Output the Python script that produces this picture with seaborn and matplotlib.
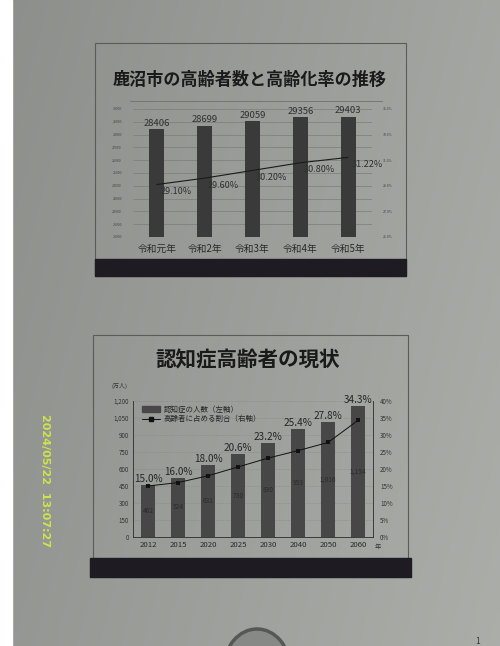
import numpy as np
import matplotlib
matplotlib.use("Agg")
import matplotlib.pyplot as plt
import matplotlib.patches as mpatches
from matplotlib.lines import Line2D
import seaborn as sns

# 上のスライド: 鹿沼市の高齢者数と高齢化率
years_top = ["令和元年", "令和2年", "令和3年", "令和4年", "令和5年"]
elderly = [28406, 28699, 29059, 29356, 29403]
aging_rate = [29.10, 29.60, 30.20, 30.80, 31.22]
left_ticks_top = [20000, 21000, 22000, 23000, 24000, 25000, 26000, 27000, 28000, 29000, 30000]
right_ticks_top = [25.0, 27.0, 29.0, 31.0, 33.0, 35.0]

# 下のスライド: 認知症高齢者の現状
years_bot = ["2012", "2015", "2020", "2025", "2030", "2040", "2050", "2060"]
dementia = [462, 524, 631, 730, 830, 953, 1016, 1154]
dementia_rate = [15.0, 16.0, 18.0, 20.6, 23.2, 25.4, 27.8, 34.3]
left_ticks_bot = [0, 150, 300, 450, 600, 750, 900, 1050, 1200]
right_ticks_bot = [0, 5, 10, 15, 20, 25, 30, 35, 40]

sns.set_theme(style="white")
plt.rcParams["font.family"] = ["Noto Sans CJK JP", "DejaVu Sans"]

W, H = 500, 646
fig = plt.figure(figsize=(W / 100, H / 100), dpi=100)


def fx(x):
    return x / W


def fy(y):
    return 1 - y / H


# 写真の背景 (紙の明るさのむら)
bg = fig.add_axes([0, 0, 1, 1], zorder=-10)
gx = np.linspace(0, 1, 200)
gy = np.linspace(0, 1, 200)
GX, GY = np.meshgrid(gx, gy)
shade = 0.56 + 0.09 * GX + 0.03 * GY
bg.imshow(np.dstack([shade * 0.985, shade, shade * 0.975]), extent=[0, W, H, 0], aspect="auto")
bg.add_patch(mpatches.Rectangle((0, 0), 12, H, color="white"))
bg.add_patch(mpatches.Ellipse((257, 668), 66, 78, facecolor="#868985", edgecolor="#555854", lw=2.5))
bg.text(478, 641, "1", fontsize=6, color="#333333", ha="center", va="center")
bg.set_xlim(0, W)
bg.set_ylim(H, 0)
bg.axis("off")

# スライドの枠と下の帯
for (x0, y0, x1, y1), (bx0, by0, bx1, by1) in [((95, 43, 406, 276), (95, 259, 406, 276)),
                                                 ((93, 335, 408, 577), (90, 558, 411, 577))]:
    bg.add_patch(mpatches.Rectangle((x0, y0), x1 - x0, y1 - y0, fill=False, ec="#5a5c58", lw=0.8))
    bg.add_patch(mpatches.Rectangle((bx0, by0), bx1 - bx0, by1 - by0, color="#1f1b22"))

bg.text(250, 80, "鹿沼市の高齢者数と高齢化率の推移", fontsize=12.3, fontweight="bold",
        ha="center", va="center", color="#1a1a1a")
bg.plot([130, 382], [101, 101], color="#6f716d", lw=0.6)
bg.text(248, 360, "認知症高齢者の現状", fontsize=14.8, fontweight="bold",
        ha="center", va="center", color="#1a1a1a")

# 日付スタンプ
bg.text(45, 480, "2024/05/22  13:07:27", rotation=-90, fontsize=8, fontweight="bold",
        color="#cfe44a", ha="center", va="center", family="DejaVu Sans")

# ---- 上のグラフ ----
ax1 = fig.add_axes([fx(133), fy(237), fx(372 - 133), (237 - 109) / H])
ax1.set_facecolor("none")
sns.barplot(x=years_top, y=elderly, ax=ax1, color="#3a3a3a", width=0.31, saturation=1,
            edgecolor="none", linewidth=0)
ax1.set_ylim(20000, 30000)
ax1.set_yticks(left_ticks_top)
ax1.set_yticklabels([str(v) for v in left_ticks_top], fontsize=2.5, color="#444444")
ax1.yaxis.grid(True, color="#7b7d79", lw=0.5)
ax1.set_axisbelow(True)
ax1.tick_params(axis="x", labelsize=7, colors="#2a2a2a", length=0, pad=5)
ax1.tick_params(axis="y", length=0, pad=8)
for s in ax1.spines.values():
    s.set_visible(False)
for i, v in enumerate(elderly):
    ax1.text(i, v + 120, str(v), ha="center", va="bottom", fontsize=6.8, color="#2f2f2f")

ax1r = ax1.twinx()
sns.lineplot(x=np.arange(len(aging_rate)), y=aging_rate, ax=ax1r, color="#1a1a1a", lw=0.8)
ax1r.set_ylim(25, 35)
ax1r.set_yticks(right_ticks_top)
ax1r.set_yticklabels([f"{v:.1f}%" for v in right_ticks_top], fontsize=2.5, color="#444444")
ax1r.tick_params(axis="y", length=0, pad=8)
for s in ax1r.spines.values():
    s.set_visible(False)
for i, v in enumerate(aging_rate):
    ax1r.text(i + 0.07, v - 0.2, f"{v:.2f}%", ha="left", va="top", fontsize=6.5, color="#2f2f2f")
ax1.set_xlim(-0.5, len(years_top) - 0.5)

# ---- 下のグラフ ----
ax2 = fig.add_axes([fx(133), fy(537), fx(373 - 133), (537 - 401) / H])
ax2.set_facecolor("none")
sns.barplot(x=years_bot, y=dementia, ax=ax2, color="#474747", width=0.44, saturation=1,
            edgecolor="none", linewidth=0)
ax2.set_ylim(0, 1200)
ax2.set_yticks(left_ticks_bot)
ax2.set_yticklabels([f"{v:,}" for v in left_ticks_bot], fontsize=4.5, color="#333333")
ax2.yaxis.grid(True, color="#7b7d79", lw=0.4, ls=":")
ax2.set_axisbelow(True)
ax2.tick_params(axis="x", labelsize=5.6, colors="#2a2a2a", length=0, pad=3)
ax2.tick_params(axis="y", length=0, pad=3)
for k in ["top", "right"]:
    ax2.spines[k].set_visible(False)
for k in ["left", "bottom"]:
    ax2.spines[k].set_color("#2a2a2a")
    ax2.spines[k].set_linewidth(0.6)
for i, v in enumerate(dementia):
    ax2.text(i, v / 2, f"{v:,}", ha="center", va="center", fontsize=4.8, color="#2c2c2c")

ax2r = ax2.twinx()
sns.lineplot(x=np.arange(len(dementia_rate)), y=dementia_rate, ax=ax2r, color="#111111",
             lw=0.7, marker="s", markersize=3.2, markeredgewidth=0)
ax2r.set_ylim(0, 40)
ax2r.set_yticks(right_ticks_bot)
ax2r.set_yticklabels([f"{v}%" for v in right_ticks_bot], fontsize=4.5, color="#333333")
ax2r.tick_params(axis="y", length=0, pad=5)
for k in ["top", "left", "bottom"]:
    ax2r.spines[k].set_visible(False)
ax2r.spines["right"].set_color("#2a2a2a")
ax2r.spines["right"].set_linewidth(0.6)
for i, v in enumerate(dementia_rate):
    top = max(v, dementia[i] / 30)
    ax2r.text(i, top + 0.3, f"{v:.1f}%", ha="center", va="bottom", fontsize=7.2, color="#252525")
ax2.set_xlim(-0.5, len(years_bot) - 0.5)

handles = [mpatches.Patch(color="#474747"),
           Line2D([0], [0], color="#111111", lw=0.7, marker="s", markersize=3.2)]
ax2r.legend(handles, ["認知症の人数（左軸）", "高齢者に占める割合（右軸）"], loc="upper left",
            bbox_to_anchor=(0.02, 1.0), frameon=False, fontsize=5.4, handlelength=2.4,
            handletextpad=0.4, labelspacing=0.25, borderaxespad=0.2)

bg.text(120, 386, "(万人)", fontsize=4.3, color="#333333", ha="center", va="center")
bg.text(378, 547, "年", fontsize=4.5, color="#333333", ha="center", va="center")

fig.savefig("out.png", dpi=100)
